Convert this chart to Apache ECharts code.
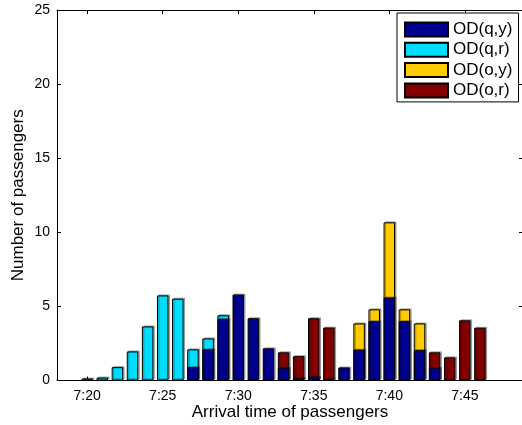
<!DOCTYPE html>
<html><head><meta charset="utf-8">
<script src="https://cdn.jsdelivr.net/npm/echarts@6/dist/echarts.min.js"></script>
<style>html,body{margin:0;padding:0;background:#fff}#c{width:522px;height:425px}</style>
</head><body><div id="c"></div>
<script>
// minutes after 7:00
const minutes = [20,21,22,23,24,25,26,27,28,29,30,31,32,33,34,35,36,37,38,39,40,41,42,43,44,45,46];
const odQY = [null,null,null,null,null,null,null,0.9,2.1,4.15,5.8,4.2,2.17,0.86,0.15,0.25,0.07,0.88,2.08,4.0,5.6,4.0,2.05,0.86,null,null,null];
const odQR = [0.13,0.2,0.9,1.96,3.65,5.74,5.52,1.2,0.74,0.25,null,null,null,null,null,null,null,null,null,null,null,null,null,null,null,null,null];
const odOY = [null,null,null,null,null,null,null,null,null,null,null,null,null,null,null,null,null,null,1.77,0.8,5.07,0.8,1.8,null,null,null,null];
const odOR = [null,null,null,null,null,null,null,null,null,null,null,null,null,1.04,1.49,3.95,3.5,null,null,null,null,null,null,1.04,1.56,4.06,3.56];
const seriesNames = ['OD(q,y)','OD(q,r)','OD(o,y)','OD(o,r)'];
const seriesColors = ['#00008F','#00DDFF','#FFCC00','#800000'];
const xTicks = [20,25,30,35,40,45];

const FONT = '"Liberation Sans", Arial, sans-serif';
const chart = echarts.init(document.getElementById('c'), null, {renderer:'canvas'});

// stacked segments: each drawn from 0 to its cumulative top; lower segments are drawn later (on top)
const layers = [odQY, odQR, odOY, odOR];
const cum = layers.map((arr, k) => minutes.map((m, i) => {
  if (arr[i] == null) return null;
  let s = 0;
  for (let j = 0; j <= k; j++) s += (layers[j][i] || 0);
  return s;
}));
function mk(k){
  return {
    name: seriesNames[k], type:'bar', xAxisIndex:0, yAxisIndex:0,
    barWidth: 11.5, barGap:'-100%',
    data: cum[k].map((v,i)=> v==null ? null : [minutes[i], v]),
    itemStyle:{color:seriesColors[k], borderColor:'#000', borderWidth:1,
      shadowColor:'rgba(0,0,0,0.3)', shadowOffsetX:1.5, shadowOffsetY:-1, shadowBlur:0},
    emphasis:{disabled:true}
  };
}
const xBase = {type:'value', min:18, max:48.85, splitLine:{show:false}};
const yBase = {type:'value', min:0, max:25, interval:5, splitLine:{show:false}};
chart.setOption({
  animation:false,
  textStyle:{fontFamily:FONT},
  grid:{left:57, right:-1, top:10, bottom:44.5, containLabel:false, outerBoundsMode:'none'},
  legend:{
    data: seriesNames, left:397, top:13, orient:'vertical',
    icon:'rect', itemWidth:43, itemHeight:14, itemGap:3.3,
    padding:[8,6,3,7], borderColor:'#000', borderWidth:1, backgroundColor:'#fff',
    textStyle:{fontFamily:FONT, fontSize:17, color:'#000'}
  },
  xAxis:[
    Object.assign({}, xBase, {position:'bottom',
      name:'Arrival time of passengers', nameLocation:'middle', nameGap:23, nameMoveOverlap:false,
      nameTextStyle:{fontFamily:FONT, fontSize:17, color:'#000'},
      axisLine:{show:true, onZero:false, lineStyle:{color:'#000', width:1}},
      axisTick:{show:true, inside:true, length:4, customValues:xTicks, lineStyle:{color:'#000'}},
      axisLabel:{show:true, customValues:xTicks, margin:9, fontFamily:FONT, fontSize:14, color:'#000',
        formatter:v=>'7:'+v}
    }),
    Object.assign({}, xBase, {position:'top',
      axisLine:{show:true, onZero:false, lineStyle:{color:'#000', width:1}},
      axisTick:{show:true, inside:true, length:4, customValues:xTicks, lineStyle:{color:'#000'}},
      axisLabel:{show:false}
    })
  ],
  yAxis:[
    Object.assign({}, yBase, {position:'left',
      name:'Number of passengers', nameLocation:'middle', nameGap:30, nameMoveOverlap:false,
      nameTextStyle:{fontFamily:FONT, fontSize:17, color:'#000'},
      axisLine:{show:true, onZero:false, lineStyle:{color:'#000', width:1}},
      axisTick:{show:true, inside:true, length:4, lineStyle:{color:'#000'}},
      axisLabel:{show:true, margin:7, fontFamily:FONT, fontSize:14, color:'#000', formatter:v=>String(v)}
    }),
    Object.assign({}, yBase, {position:'right',
      axisLine:{show:true, onZero:false, lineStyle:{color:'#000', width:1}},
      axisTick:{show:true, inside:true, length:4, lineStyle:{color:'#000'}},
      axisLabel:{show:false}
    })
  ],
  series:[mk(3), mk(2), mk(1), mk(0)]
});
</script></body></html>
